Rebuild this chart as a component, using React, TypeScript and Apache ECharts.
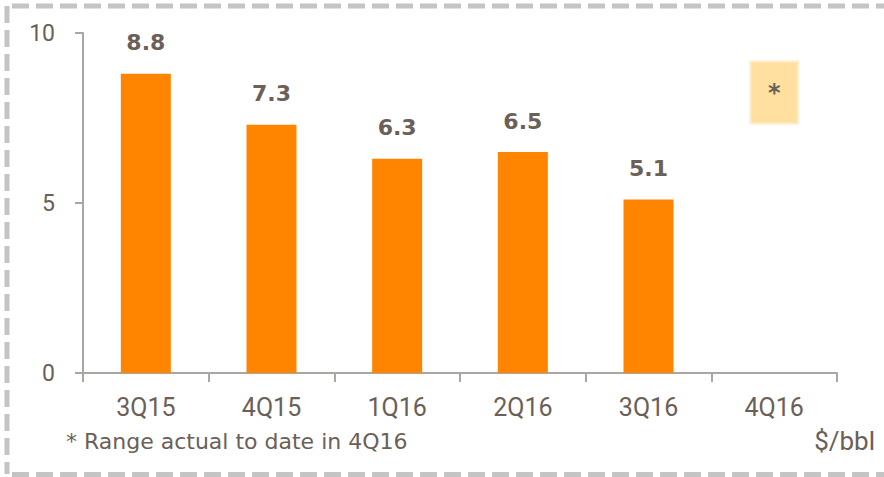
import React, { useEffect, useRef } from "react";
import * as echarts from "echarts";

const categories = ["3Q15", "4Q15", "1Q16", "2Q16", "3Q16", "4Q16"];
const actualValues = [8.8, 7.3, 6.3, 6.5, 5.1, null];
const rangeLow = [null, null, null, null, null, 7.3];
const rangeHigh = [null, null, null, null, null, 9.2];
const yTicks = [0, 5, 10];

const TEXT = "#6b6058";
const AXIS = "#a9a6a3";
const FONT = "Roboto";
const WIDE = "DejaVu Sans";

export default function App() {
  const ref = useRef<HTMLDivElement>(null);
  useEffect(() => {
    if (!ref.current) return;
    const chart = echarts.init(ref.current, undefined, { renderer: "svg" });
    const rangeSpan = rangeHigh.map((h, i) =>
      h == null || rangeLow[i] == null ? null : +(h - (rangeLow[i] as number)).toFixed(2)
    );
    const dash = { stroke: "#c4c4c4", lineWidth: 5, lineDash: [17, 7] };
    chart.setOption({
      animation: false,
      textStyle: { fontFamily: FONT },
      grid: { left: 83, right: 47, top: 33, bottom: 104, containLabel: false },
      xAxis: {
        type: "category",
        data: categories,
        axisLine: { lineStyle: { color: AXIS, width: 2 } },
        axisTick: { show: true, length: 9, lineStyle: { color: AXIS, width: 2 } },
        axisLabel: { color: TEXT, fontSize: 25, margin: 22, fontFamily: FONT },
      },
      yAxis: {
        type: "value",
        min: yTicks[0],
        max: yTicks[yTicks.length - 1],
        interval: 5,
        splitLine: { show: false },
        axisLine: { show: true, lineStyle: { color: AXIS, width: 2 } },
        axisTick: { show: true, length: 8, lineStyle: { color: AXIS, width: 2 } },
        axisLabel: {
          color: TEXT,
          fontSize: 23,
          margin: 28,
          fontFamily: FONT,
          padding: [0, 0, 6, 0],
        },
      },
      series: [
        {
          type: "bar",
          data: actualValues,
          barWidth: 50,
          barGap: "-100%",
          itemStyle: { color: "#ff8400" },
          label: {
            show: true,
            position: "top",
            distance: 20,
            color: TEXT,
            fontSize: 22,
            fontWeight: "bold",
            fontFamily: WIDE,
            formatter: (p: any) => (p.value == null ? "" : Number(p.value).toFixed(1)),
          },
        },
        {
          type: "bar",
          stack: "range",
          data: rangeLow,
          barWidth: 50,
          itemStyle: { color: "transparent" },
          silent: true,
        },
        {
          type: "bar",
          stack: "range",
          data: rangeSpan,
          barWidth: 50,
          itemStyle: { color: "#ffe0a0", borderColor: "#fff0d4", borderWidth: 2 },
          label: {
            show: true,
            position: "inside",
            formatter: "*",
            color: TEXT,
            fontSize: 24,
            fontWeight: "bold",
            fontFamily: WIDE,
          },
        },
      ],
      graphic: [
        { type: "line", shape: { x1: 12, y1: 6, x2: 884, y2: 6 }, style: dash, silent: true },
        { type: "line", shape: { x1: 7, y1: 6, x2: 7, y2: 474 }, style: dash, silent: true },
        { type: "line", shape: { x1: 12, y1: 474.5, x2: 884, y2: 474.5 }, style: dash, silent: true },
        {
          type: "text",
          left: 66,
          top: 430,
          style: { text: "* Range actual to date in 4Q16", fill: TEXT, font: `22px "${WIDE}"` },
        },
        {
          type: "text",
          right: 9,
          top: 428,
          style: { text: "$/bbl", fill: TEXT, font: `26px ${FONT}` },
        },
      ],
    });
    return () => chart.dispose();
  }, []);
  return (
    <div
      ref={ref}
      style={{ position: "fixed", left: 0, top: 0, width: 884, height: 477, background: "#fff" }}
    />
  );
}
